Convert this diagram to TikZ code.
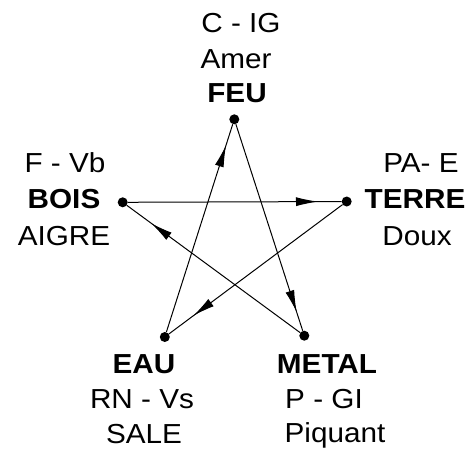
\documentclass[tikz,border=0pt]{standalone}
\usepackage{fontspec}
\setmainfont{Liberation Sans}[FakeStretch=1.08]
\usetikzlibrary{arrows.meta,decorations.markings}
\begin{document}
\begin{tikzpicture}[x=1pt,y=-1pt,
  txt/.style={inner sep=0pt,anchor=base,font=\fontsize{27.5}{32}\selectfont},
  btxt/.style={txt,font=\fontsize{27.5}{32}\selectfont\bfseries},
  dot/.style={circle,fill=black,inner sep=0pt,minimum size=10pt},
  link/.style={line width=1pt,postaction={decorate},
    decoration={markings,mark=at position #1 with {\arrow{Latex[length=22pt,width=9pt]}}}}
]
\useasboundingbox (0,0) rectangle (475,451);
% dots
\node[dot] (feu) at (234.3,119.3) {};
\node[dot] (bois) at (122.7,202.3) {};
\node[dot] (terre) at (346.7,201.5) {};
\node[dot] (eau) at (164.8,337) {};
\node[dot] (metal) at (304.3,335.7) {};
% connectors
\draw[link=0.90] (eau) -- (feu);
\draw[link=0.91] (feu) -- (metal);
\draw[link=0.89] (bois) -- (terre);
\draw[link=0.86] (terre) -- (eau);
\draw[link=0.86] (metal) -- (bois);
% FEU labels
\node[txt] (feuA) at (241,32) {C - IG};
\node[txt] (feuB) at (236,68) {Amer};
\node[btxt] (feuC) at (237,102) {FEU};
% BOIS labels
\node[txt] (boisA) at (65,172) {F - Vb};
\node[btxt] (boisB) at (64,208) {BOIS};
\node[txt] (boisC) at (64,245) {AIGRE};
% TERRE labels
\node[txt] (terreA) at (421,172) {PA- E};
\node[btxt] (terreB) at (415,208) {TERRE};
\node[txt] (terreC) at (417,245) {Doux};
% EAU labels
\node[btxt] (eauA) at (144,373) {EAU};
\node[txt] (eauB) at (142,408) {RN - Vs};
\node[txt] (eauC) at (144,443) {SALE};
% METAL labels
\node[btxt] (metalA) at (327,373) {METAL};
\node[txt] (metalB) at (324,408) {P - GI};
\node[txt] (metalC) at (335,442) {Piquant};
\end{tikzpicture}
\end{document}
